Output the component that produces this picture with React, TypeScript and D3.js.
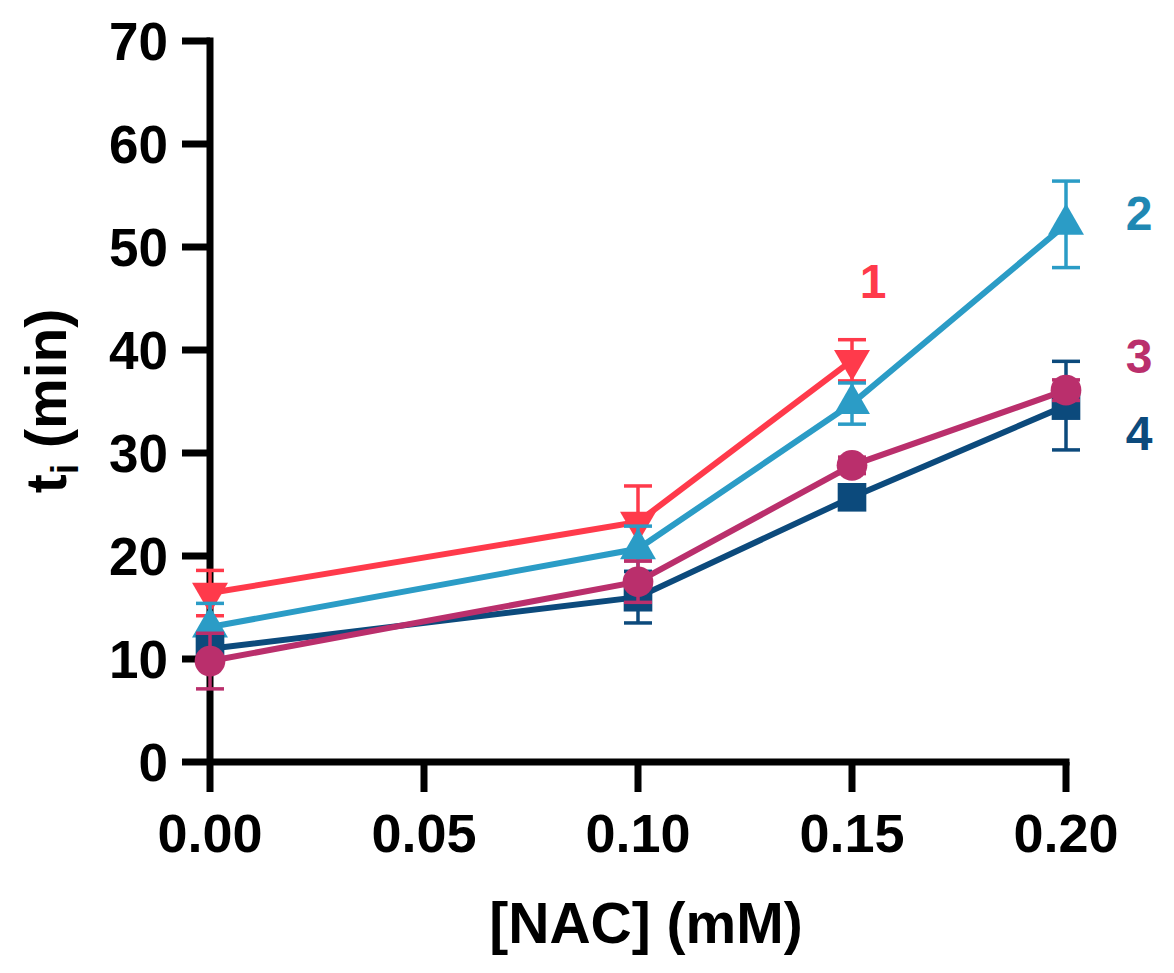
import React from 'react';
import * as d3 from 'd3';

// NAC concentrations (mM) and series
const nac = [0, 0.1, 0.15, 0.2];
const xTicks = [0, 0.05, 0.1, 0.15, 0.2];
const yTicks = [0, 10, 20, 30, 40, 50, 60, 70];

const s1Mean = [16.4, 23.3, 39.0];
const s1Err = [2.2, 3.5, 2.0];
const s2Mean = [13.1, 20.7, 34.8, 52.2];
const s2Err = [2.3, 2.2, 2.0, 4.2];
const s3Mean = [9.8, 17.5, 28.8, 36.1];
const s3Err = [2.7, 2.0, 0.8, 1.0];
const s4Mean = [11.0, 16.0, 25.7, 34.6];
const s4Err = [1.0, 2.5, 0.8, 4.3];

const seriesLabels = ['1', '2', '3', '4'];

interface Series {
  name: string;
  mean: number[];
  err: number[];
  color: string;
  shape: 'down' | 'up' | 'circle' | 'square';
}

// drawing order: red, blue, navy, magenta (magenta sits on top)
const series: Series[] = [
  { name: seriesLabels[0], mean: s1Mean, err: s1Err, color: '#ff3a4b', shape: 'down' },
  { name: seriesLabels[1], mean: s2Mean, err: s2Err, color: '#2b9cc6', shape: 'up' },
  { name: seriesLabels[3], mean: s4Mean, err: s4Err, color: '#0c4a7c', shape: 'square' },
  { name: seriesLabels[2], mean: s3Mean, err: s3Err, color: '#ba2f6c', shape: 'circle' },
];

const width = 1174;
const height = 973;
const font = '"Liberation Sans", Arial, sans-serif';

const App: React.FC = () => {
  const x = d3.scaleLinear().domain([0, 0.2]).range([210, 1066]);
  const y = d3.scaleLinear().domain([0, 70]).range([762, 41]);

  const line = d3.line<number>()
    .x((_, i) => x(nac[i]))
    .y((d) => y(d));

  const symbolPath = (shape: Series['shape']) => {
    if (shape === 'circle') return d3.symbol(d3.symbolCircle, 740)()!;
    if (shape === 'square') return d3.symbol(d3.symbolSquare, 820)()!;
    return d3.symbol(d3.symbolTriangle, 560)()!;
  };

  const cap = 14;

  return (
    <svg
      width={width}
      height={height}
      style={{ position: 'absolute', left: 0, top: 0, background: '#fff' }}
      fontFamily={font}
      fontWeight="bold"
    >
      {/* axes */}
      <g stroke="#000" strokeWidth={7} fill="none">
        <line x1={x(0)} x2={x(0)} y1={y(70) - 3.5} y2={y(0)} />
        <line x1={x(0)} x2={x(0.2) + 3.5} y1={y(0)} y2={y(0)} />
        {yTicks.map((t) => (
          <line key={'yt' + t} x1={x(0) - 28} x2={x(0)} y1={y(t)} y2={y(t)} />
        ))}
        {xTicks.map((t) => (
          <line key={'xt' + t} x1={x(t)} x2={x(t)} y1={y(0)} y2={y(0) + 30} />
        ))}
      </g>
      {yTicks.map((t) => (
        <text key={'yl' + t} x={168} y={y(t)} dy="0.36em" textAnchor="end" fontSize={53}>
          {t}
        </text>
      ))}
      {xTicks.map((t) => (
        <text key={'xl' + t} x={x(t)} y={852} textAnchor="middle" fontSize={54}>
          {d3.format('.2f')(t)}
        </text>
      ))}
      <text x={(x(0) + x(0.2)) / 2 + 8} y={943} textAnchor="middle" fontSize={57}>
        [NAC] (mM)
      </text>
      <text transform="translate(66,401) rotate(-90)" textAnchor="middle" fontSize={57}>
        t<tspan fontSize={38} dy={12}>i</tspan>
        <tspan dy={-12}> (min)</tspan>
      </text>

      {/* series */}
      {series.map((s) => (
        <g key={s.name}>
          <g stroke={s.color} strokeWidth={3.5}>
            {s.mean.map((m, i) => (
              <g key={i}>
                <line x1={x(nac[i])} x2={x(nac[i])} y1={y(m - s.err[i])} y2={y(m + s.err[i])} />
                <line x1={x(nac[i]) - cap} x2={x(nac[i]) + cap} y1={y(m + s.err[i])} y2={y(m + s.err[i])} />
                <line x1={x(nac[i]) - cap} x2={x(nac[i]) + cap} y1={y(m - s.err[i])} y2={y(m - s.err[i])} />
              </g>
            ))}
          </g>
          <path d={line(s.mean)!} fill="none" stroke={s.color} strokeWidth={6} />
          {s.mean.map((m, i) => (
            <path
              key={'m' + i}
              d={symbolPath(s.shape)}
              fill={s.color}
              transform={`translate(${x(nac[i])},${y(m)})${s.shape === 'down' ? ' rotate(180)' : ''}`}
            />
          ))}
        </g>
      ))}

      {/* series labels */}
      <text x={873} y={298} textAnchor="middle" fontSize={48} fill="#ff3a4b">1</text>
      <text x={1139} y={230} textAnchor="middle" fontSize={48} fill="#1f88b3">2</text>
      <text x={1139} y={373} textAnchor="middle" fontSize={48} fill="#ba2f6c">3</text>
      <text x={1139} y={450} textAnchor="middle" fontSize={48} fill="#0c4a7c">4</text>
    </svg>
  );
};

export default App;
